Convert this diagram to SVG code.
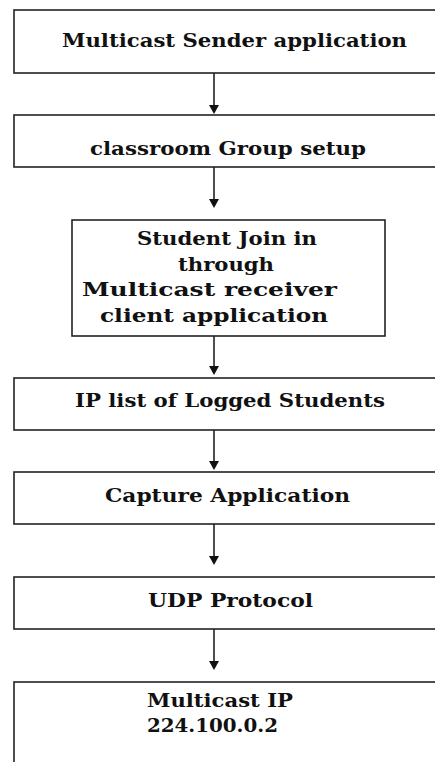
<svg xmlns="http://www.w3.org/2000/svg" width="435" height="762" viewBox="0 0 435 762">
<style>
.box{fill:#ffffff;stroke:#222222;stroke-width:1.6}
.lbl{font-family:"DejaVu Serif","Liberation Serif",serif;font-weight:bold;font-size:19px;fill:#111111}
.conn{stroke:#222222;stroke-width:1.6;fill:none}
.head{fill:#111111}
</style>
<rect width="435" height="762" fill="#ffffff"/>
<g id="connectors">
<line class="conn" x1="214" y1="73" x2="214" y2="106"/><path class="head" d="M209,105 L219,105 L214,114 Z"/>
<line class="conn" x1="214" y1="167" x2="214" y2="200"/><path class="head" d="M209,199 L219,199 L214,208 Z"/>
<line class="conn" x1="214" y1="336" x2="214" y2="367"/><path class="head" d="M209,366 L219,366 L214,375 Z"/>
<line class="conn" x1="214" y1="430" x2="214" y2="462"/><path class="head" d="M209,461 L219,461 L214,470 Z"/>
<line class="conn" x1="214" y1="524" x2="214" y2="557"/><path class="head" d="M209,556 L219,556 L214,565 Z"/>
<line class="conn" x1="214" y1="629" x2="214" y2="662"/><path class="head" d="M209,661 L219,661 L214,670 Z"/>
</g>
<g id="n1"><rect class="box" x="14" y="10" width="430" height="63"/>
<text class="lbl" x="62" y="47" textLength="345" lengthAdjust="spacingAndGlyphs">Multicast Sender application</text></g>
<g id="n2"><rect class="box" x="14" y="115" width="430" height="52"/>
<text class="lbl" x="90" y="155" textLength="276" lengthAdjust="spacingAndGlyphs">classroom Group setup</text></g>
<g id="n3"><rect class="box" x="72" y="220" width="313" height="116"/>
<text class="lbl" x="137" y="245" textLength="180" lengthAdjust="spacingAndGlyphs">Student Join in</text>
<text class="lbl" x="178" y="271" textLength="96" lengthAdjust="spacingAndGlyphs">through</text>
<text class="lbl" x="82" y="296" textLength="255" lengthAdjust="spacingAndGlyphs">Multicast receiver</text>
<text class="lbl" x="100" y="322" textLength="228" lengthAdjust="spacingAndGlyphs">client application</text></g>
<g id="n4"><rect class="box" x="14" y="378" width="430" height="52"/>
<text class="lbl" x="75" y="407" textLength="310" lengthAdjust="spacingAndGlyphs">IP list of Logged Students</text></g>
<g id="n5"><rect class="box" x="14" y="472" width="430" height="52"/>
<text class="lbl" x="105" y="502" textLength="245" lengthAdjust="spacingAndGlyphs">Capture Application</text></g>
<g id="n6"><rect class="box" x="14" y="577" width="430" height="52"/>
<text class="lbl" x="148" y="607" textLength="165" lengthAdjust="spacingAndGlyphs">UDP Protocol</text></g>
<g id="n7"><rect class="box" x="14" y="682" width="430" height="100"/>
<text class="lbl" x="147" y="707" textLength="146" lengthAdjust="spacingAndGlyphs">Multicast IP</text>
<text class="lbl" x="147" y="732" textLength="131" lengthAdjust="spacingAndGlyphs">224.100.0.2</text></g>
</svg>
